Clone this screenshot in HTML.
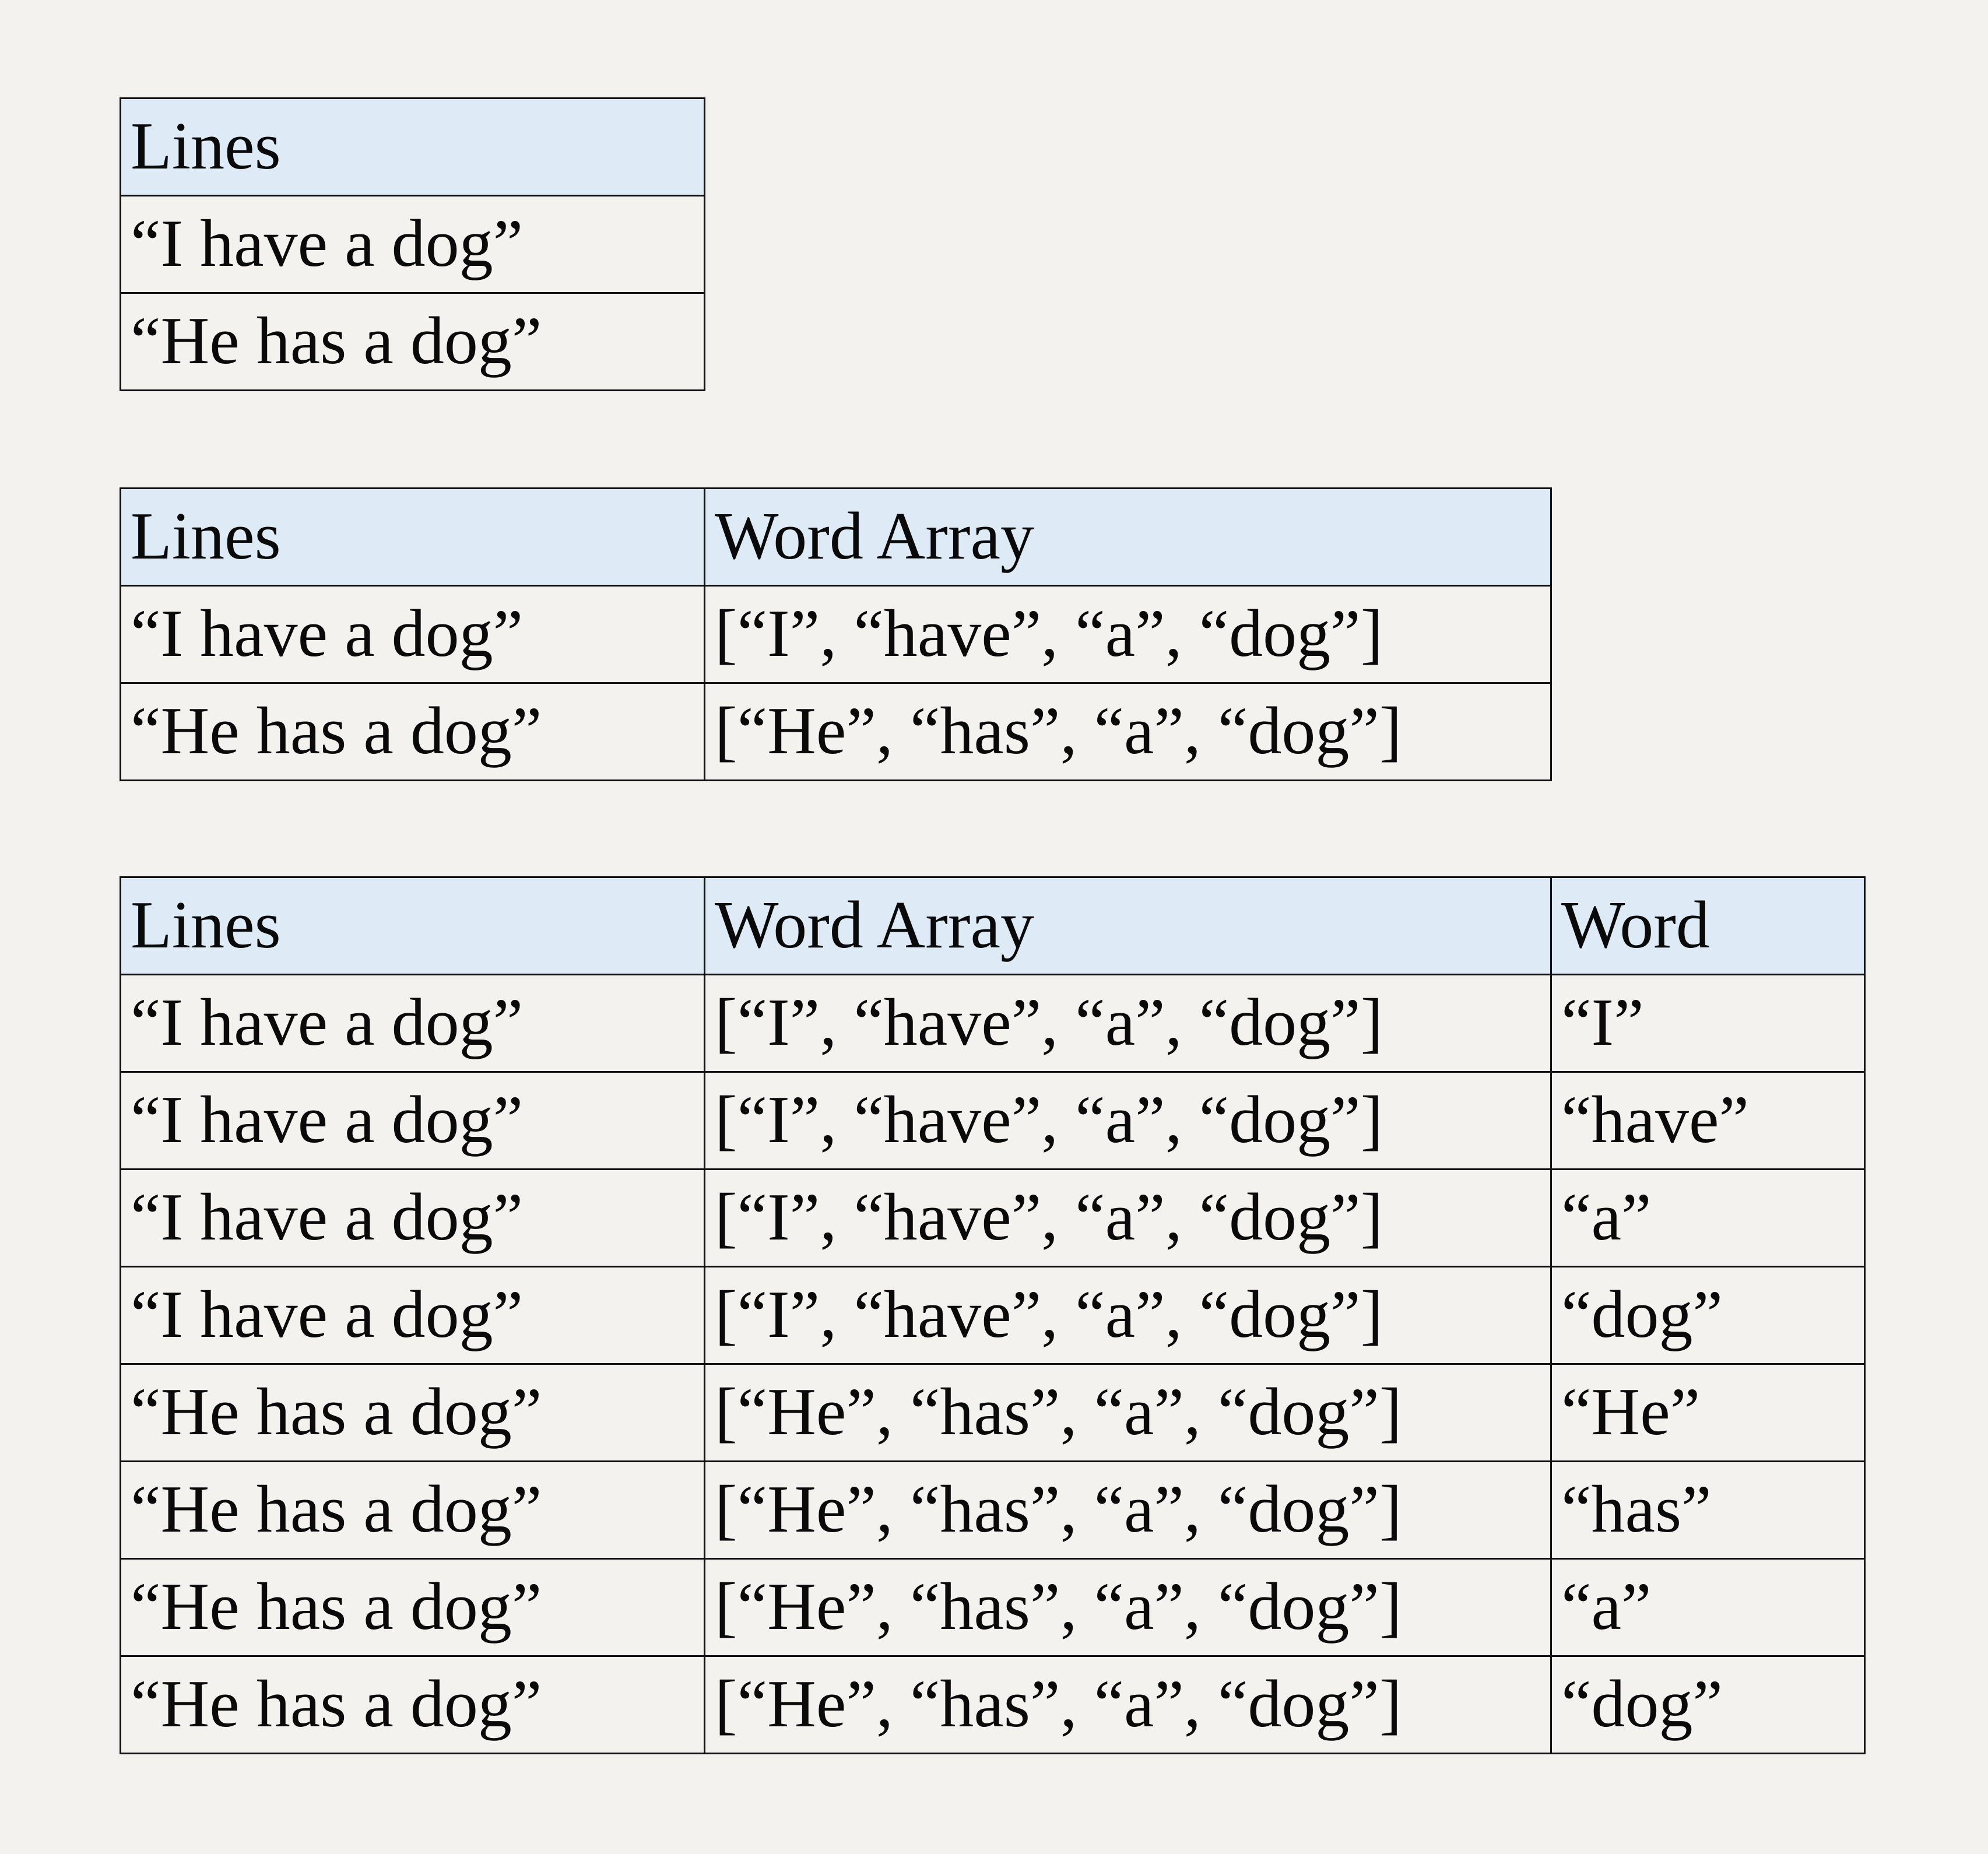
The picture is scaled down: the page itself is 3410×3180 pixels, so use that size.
<!DOCTYPE html>
<html><head><meta charset="utf-8"><style>
html,body{margin:0;padding:0;}
body{width:3410px;height:3180px;background:#f3f2ee;position:relative;overflow:hidden;font-family:"Liberation Serif",serif;}
.t{position:absolute;left:205px;}
.r{display:flex;height:170px;margin-top:-3px;}
.r:first-child{margin-top:0;}
.c{box-sizing:border-box;height:170px;border:3px solid #111;padding:23px 0 0 16px;font-size:116px;line-height:1;color:#0a0a0a;white-space:nowrap;overflow:hidden;}
.c+.c{margin-left:-3px;}
.a{width:1005px}.b{width:1455px}.d{width:541px}
.h .c{background:#deeaf5;}
</style></head><body>
<div class="t" style="top:167px">
<div class="r h"><div class="c a">Lines</div></div>
<div class="r"><div class="c a">“I have a dog”</div></div>
<div class="r"><div class="c a">“He has a dog”</div></div>
</div>
<div class="t" style="top:836px">
<div class="r h"><div class="c a">Lines</div><div class="c b">Word Array</div></div>
<div class="r"><div class="c a">“I have a dog”</div><div class="c b">[“I”, “have”, “a”, “dog”]</div></div>
<div class="r"><div class="c a">“He has a dog”</div><div class="c b">[“He”, “has”, “a”, “dog”]</div></div>
</div>
<div class="t" style="top:1503px">
<div class="r h"><div class="c a">Lines</div><div class="c b">Word Array</div><div class="c d">Word</div></div>
<div class="r"><div class="c a">“I have a dog”</div><div class="c b">[“I”, “have”, “a”, “dog”]</div><div class="c d">“I”</div></div>
<div class="r"><div class="c a">“I have a dog”</div><div class="c b">[“I”, “have”, “a”, “dog”]</div><div class="c d">“have”</div></div>
<div class="r"><div class="c a">“I have a dog”</div><div class="c b">[“I”, “have”, “a”, “dog”]</div><div class="c d">“a”</div></div>
<div class="r"><div class="c a">“I have a dog”</div><div class="c b">[“I”, “have”, “a”, “dog”]</div><div class="c d">“dog”</div></div>
<div class="r"><div class="c a">“He has a dog”</div><div class="c b">[“He”, “has”, “a”, “dog”]</div><div class="c d">“He”</div></div>
<div class="r"><div class="c a">“He has a dog”</div><div class="c b">[“He”, “has”, “a”, “dog”]</div><div class="c d">“has”</div></div>
<div class="r"><div class="c a">“He has a dog”</div><div class="c b">[“He”, “has”, “a”, “dog”]</div><div class="c d">“a”</div></div>
<div class="r"><div class="c a">“He has a dog”</div><div class="c b">[“He”, “has”, “a”, “dog”]</div><div class="c d">“dog”</div></div>
</div>
</body></html>
